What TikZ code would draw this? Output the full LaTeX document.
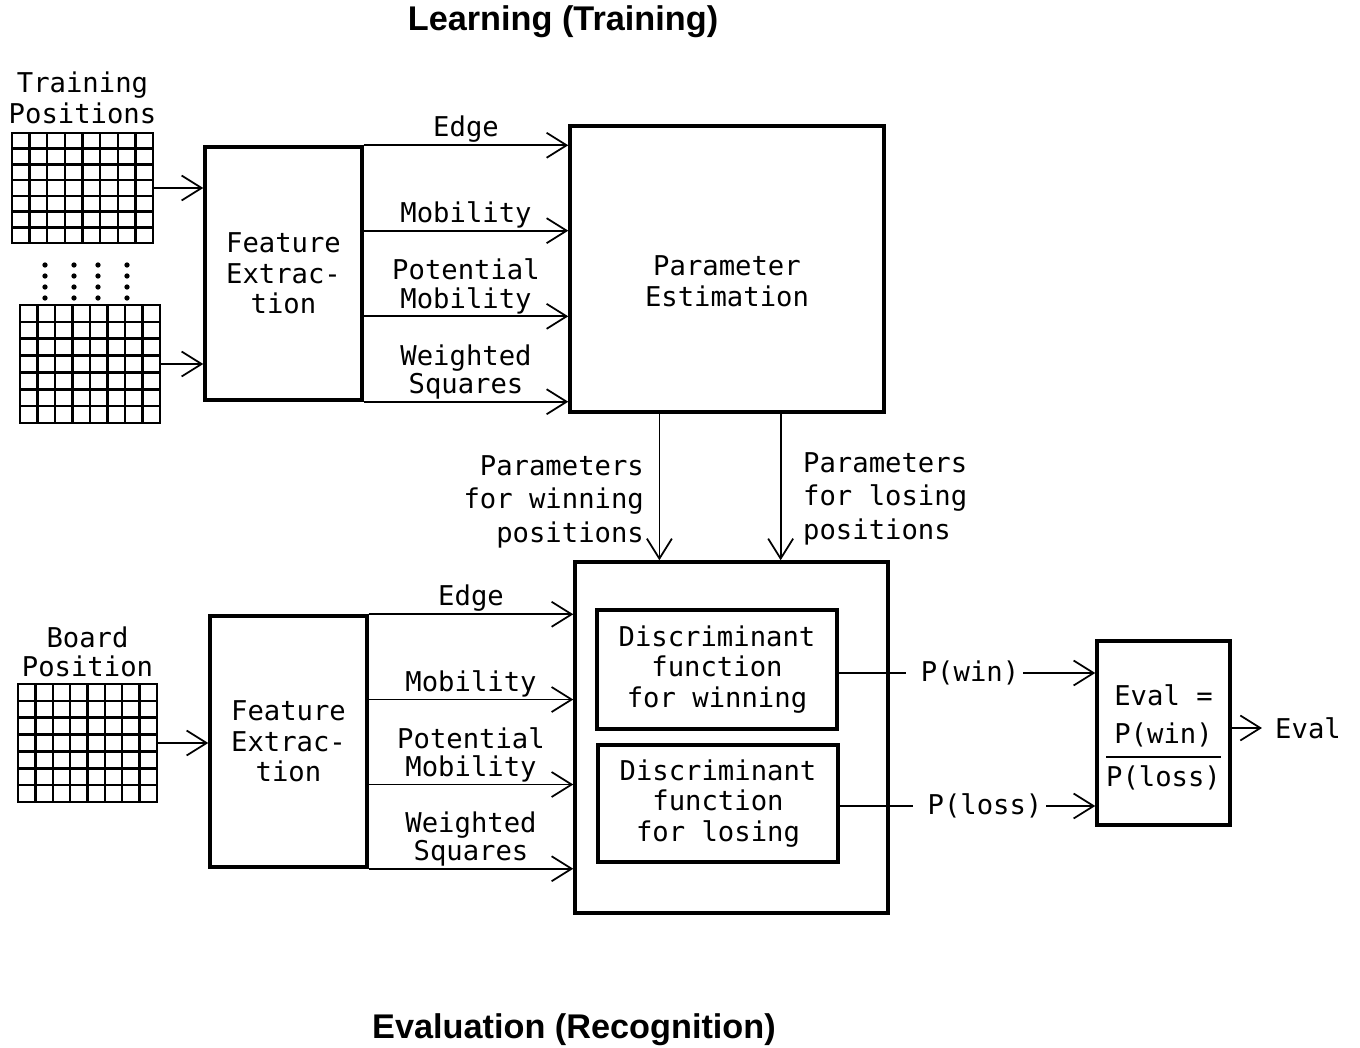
\documentclass[tikz,border=0pt]{standalone}
\usepackage{fontspec}
\setmonofont{DejaVu Sans Mono}
\newfontfamily\titlefont{Liberation Sans}
\usetikzlibrary{arrows.meta,calc,positioning}

\begin{document}
\begin{tikzpicture}[
  x=0.02cm, y=-0.02cm,
  font=\ttfamily\fontsize{15.5}{17.5}\selectfont,
  box/.style={draw, line width=2pt, inner sep=2pt, align=center},
  heading/.style={font=\titlefont\bfseries\fontsize{19.5}{22}\selectfont},
  arr/.style={line width=1pt, -{Straight Barb[length=0.4cm, width=0.5cm, line width=1pt]}},
  feat/.style={midway, above, inner sep=1pt, align=center, font=\ttfamily\fontsize{15.5}{16}\selectfont},
  board/.style 2 args={draw, line width=1.6pt, inner sep=0pt, minimum width=#1, minimum height=#2,
    path picture={
      \foreach \i in {1,...,7}
        \draw[line width=1.4pt] ($(path picture bounding box.south west)!\i/8!(path picture bounding box.south east)$)
          -- ($(path picture bounding box.north west)!\i/8!(path picture bounding box.north east)$);
      \foreach \j in {1,...,6}
        \draw[line width=1.4pt] ($(path picture bounding box.south west)!\j/7!(path picture bounding box.north west)$)
          -- ($(path picture bounding box.south east)!\j/7!(path picture bounding box.north east)$);
    }}
]
\useasboundingbox (0,0) rectangle (1360,1048);

\node[heading] (learn) at (563,22) {Learning (Training)};
\node[heading] (recog) at (574,1030) {Evaluation (Recognition)};

\node[board={2.82cm}{2.2cm}] (tp1) at (82.5,188) {};
\node[above=1pt of tp1, align=center] (tplab) {Training\\Positions};
\foreach \x in {45,74,98,127}
  \foreach \y in {265,276,287,298}
    \fill (\x,\y) circle (1.5pt);
\node[board={2.8cm}{2.36cm}] (tp2) at (90,364) {};

\node[box, minimum width=3.14cm, minimum height=5.06cm] (fe1) at (283.5,273.5) {Feature\\Extrac-\\tion};
\node[box, minimum width=6.28cm, minimum height=5.72cm,
  label={[align=center, yshift=-7pt]center:Parameter\\Estimation}] (pe) at (727,269) {};

\draw[arr] (tp1.east) -- (tp1.east -| fe1.west);
\draw[arr] (tp2.east) -- (tp2.east -| fe1.west);

\foreach \f/\txt [count=\k] in {0/Edge, 0.333/Mobility, 0.667/{Potential\\Mobility}, 1/{Weighted\\Squares}}
  \draw[arr] ($(fe1.north east)!\f!(fe1.south east)$) coordinate (u\k) -- (u\k -| pe.west) node[feat] {\txt};

\node[box, minimum width=6.26cm, minimum height=7.02cm] (eb) at (731.5,737.5) {};
\node[box, minimum width=4.8cm, minimum height=2.38cm] (dw) at (717,669.5) {Discriminant\\function\\for winning};
\node[box, minimum width=4.8cm, minimum height=2.34cm] (dl) at (718,803.5) {Discriminant\\function\\for losing};

\draw[arr] ($(pe.south west)!0.287!(pe.south east)$) coordinate (pw) -- (pw |- eb.north)
  node[pos=0.6, left, xshift=-5pt, align=right, font=\ttfamily\fontsize{15.5}{19}\selectfont] {Parameters\\for winning\\positions};
\draw[arr] ($(pe.south west)!0.669!(pe.south east)$) coordinate (pl) -- (pl |- eb.north)
  node[pos=0.58, right, xshift=9pt, align=left, font=\ttfamily\fontsize{15.5}{19}\selectfont] {Parameters\\for losing\\positions};

\node[board={2.78cm}{2.36cm}] (bp) at (87.5,743) {};
\node[above=0pt of bp, align=center, font=\ttfamily\fontsize{15.5}{16}\selectfont] (bplab) {Board\\Position};
\node[box, minimum width=3.14cm, minimum height=5.02cm] (fe2) at (288.5,741.5) {Feature\\Extrac-\\tion};
\draw[arr] (bp.east) -- (bp.east -| fe2.west);

\foreach \f/\txt [count=\k] in {0/Edge, 0.335/Mobility, 0.669/{Potential\\Mobility}, 1/{Weighted\\Squares}}
  \draw[arr] ($(fe2.north east)!\f!(fe2.south east)$) coordinate (v\k) -- (v\k -| eb.west) node[feat] {\txt};

\node[box, minimum width=2.66cm, minimum height=3.68cm,
  label={[align=center, yshift=-5pt]center:Eval =\\[4pt]\setlength{\arrayrulewidth}{1pt}\renewcommand{\arraystretch}{1.35}\begin{tabular}{@{}c@{}}P(win)\\\hline P(loss)\end{tabular}}] (ev) at (1163.5,733) {};

\node[inner sep=2pt] (pwin) at (970,673) {P(win)};
\draw[line width=1pt] (dw.east |- pwin) -- ([xshift=-6pt]pwin.west);
\draw[arr] (pwin.east) -- (pwin.east -| ev.west);
\node[inner sep=2pt] (ploss) at (985,806) {P(loss)};
\draw[line width=1pt] (dl.east |- ploss) -- ([xshift=-6pt]ploss.west);
\draw[arr] (ploss.east) -- (ploss.east -| ev.west);

\node (evo) at (1308,728) {Eval};
\draw[arr, shorten >=4pt] (ev.east |- evo) -- (evo.west);
\end{tikzpicture}
\end{document}
